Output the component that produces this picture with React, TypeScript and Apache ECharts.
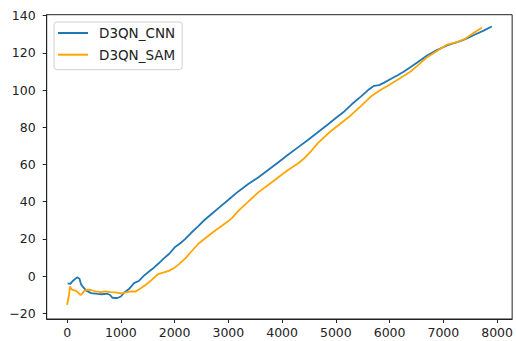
import React, { useEffect, useRef } from "react";
import * as echarts from "echarts";

const seriesNames = ["D3QN_CNN", "D3QN_SAM"];

const cnnData: [number, number][] = [
  [10, -4], [60, -4.2], [110, -2.5], [185, -0.7], [230, -1.5], [260, -4.5], [300, -6],
  [350, -7.7], [445, -9.2], [565, -9.6], [650, -9.8], [750, -9.5], [800, -10.2], [845, -11.7],
  [935, -11.8], [1000, -11], [1060, -9], [1150, -7], [1245, -3.8], [1340, -2.5], [1430, 0.2],
  [1530, 2.6], [1615, 4.5], [1710, 7], [1800, 9.5], [1900, 12], [2015, 15.8], [2100, 17.5],
  [2200, 20], [2300, 23], [2446, 27], [2550, 30], [2693, 33.5], [2816, 36.5], [3002, 41],
  [3186, 45.5], [3370, 49.5], [3555, 53], [3740, 57], [3925, 61.1], [4110, 65.2], [4295, 69.2],
  [4480, 73.2], [4665, 77.3], [4850, 81.5], [5000, 85], [5157, 88.5], [5300, 92.5],
  [5465, 96.5], [5600, 100], [5712, 102.3], [5804, 102.7], [5900, 104], [6020, 106],
  [6150, 108], [6268, 110], [6400, 112.5], [6514, 114.8], [6699, 118.6], [6880, 121.5],
  [7069, 124], [7200, 125.3], [7315, 126.3], [7439, 127.8], [7600, 130], [7750, 132],
  [7901, 134.2],
];

const samData: [number, number][] = [
  [0, -15.5], [30, -11], [55, -5.6], [80, -7], [104, -7.5], [166, -8], [210, -9], [246, -10.2],
  [280, -9.5], [320, -8], [380, -7.3], [445, -7.5], [530, -8.2], [630, -8.6], [700, -8.2],
  [815, -8.6], [900, -8.8], [1000, -9.3], [1100, -8.8], [1180, -8.2], [1276, -8.3],
  [1370, -6.5], [1450, -5], [1550, -2.7], [1650, 0], [1707, 1.2], [1800, 2], [1891, 2.8],
  [2000, 4.5], [2076, 6.3], [2200, 9.5], [2300, 12.8], [2446, 17.5], [2600, 21], [2755, 24.5],
  [2900, 27.5], [3062, 31], [3186, 35], [3370, 40], [3555, 45], [3740, 49], [3925, 53],
  [4110, 57], [4295, 60.5], [4419, 63.5], [4550, 67.5], [4665, 71.5], [4850, 76.5],
  [4974, 79.5], [5130, 83], [5281, 86.5], [5470, 91.5], [5651, 96.5], [5830, 100],
  [6020, 103.3], [6200, 106.5], [6391, 110], [6514, 113], [6699, 117.7], [6880, 121],
  [7069, 124.5], [7254, 125.8], [7408, 127.6], [7550, 130.5], [7716, 133.5],
];

const xTicks = [0, 1000, 2000, 3000, 4000, 5000, 6000, 7000, 8000];
const yTicks = [-20, 0, 20, 40, 60, 80, 100, 120, 140];

const colors = ["#1f77b4", "#ffa500"];
const font = "DejaVu Sans";
const fmt = (v: number) => String(v).replace("-", "\u2212");

export default function App() {
  const ref = useRef<HTMLDivElement>(null);
  useEffect(() => {
    if (!ref.current) return;
    const chart = echarts.init(ref.current, undefined, { renderer: "svg" });
    chart.setOption({
      animation: false,
      backgroundColor: "#ffffff",
      grid: {
        left: 46.7,
        top: 14.7,
        width: 470,
        height: 304.3,
        show: true,
        borderColor: "#222",
        borderWidth: 1,
        containLabel: false,
      },
      legend: {
        orient: "vertical",
        left: 54,
        top: 22,
        data: seriesNames.map((n) => ({ name: n, icon: "rect" })),
        itemWidth: 30,
        itemHeight: 2,
        itemGap: 1.7,
        padding: [1, 7, 5, 4],
        borderColor: "#d0d0d0",
        borderWidth: 1,
        borderRadius: 3,
        backgroundColor: "rgba(255,255,255,0.8)",
        textStyle: {
          fontFamily: font,
          fontSize: 13.5,
          color: "#222",
          lineHeight: 20,
          padding: [0, 0, 0, 6],
        },
      },
      xAxis: {
        type: "value",
        min: -380,
        max: 8280,
        splitLine: { show: false },
        axisLine: { show: true, onZero: false, lineStyle: { color: "#222", width: 1 } },
        axisTick: { show: true, length: 4, customValues: xTicks, lineStyle: { color: "#222" } },
        axisLabel: {
          customValues: xTicks,
          formatter: (v: number) => fmt(v),
          fontFamily: font,
          fontSize: 12.5,
          color: "#222",
          margin: 7,
        },
      },
      yAxis: {
        type: "value",
        min: -23.1,
        max: 140.54,
        splitLine: { show: false },
        axisLine: { show: true, onZero: false, lineStyle: { color: "#222", width: 1 } },
        axisTick: { show: true, length: 4, customValues: yTicks, lineStyle: { color: "#222" } },
        axisLabel: {
          customValues: yTicks,
          formatter: (v: number) => fmt(v),
          fontFamily: font,
          fontSize: 12.5,
          color: "#222",
          margin: 11,
        },
      },
      series: [
        {
          name: seriesNames[0],
          type: "line",
          data: cnnData,
          symbol: "none",
          lineStyle: { color: colors[0], width: 1.8 },
          itemStyle: { color: colors[0] },
          z: 2,
        },
        {
          name: seriesNames[1],
          type: "line",
          data: samData,
          symbol: "none",
          lineStyle: { color: colors[1], width: 1.8 },
          itemStyle: { color: colors[1] },
          z: 3,
        },
      ],
    });
    return () => chart.dispose();
  }, []);
  return (
    <div
      ref={ref}
      style={{ position: "absolute", left: 0, top: 0, width: 516, height: 341 }}
    />
  );
}
